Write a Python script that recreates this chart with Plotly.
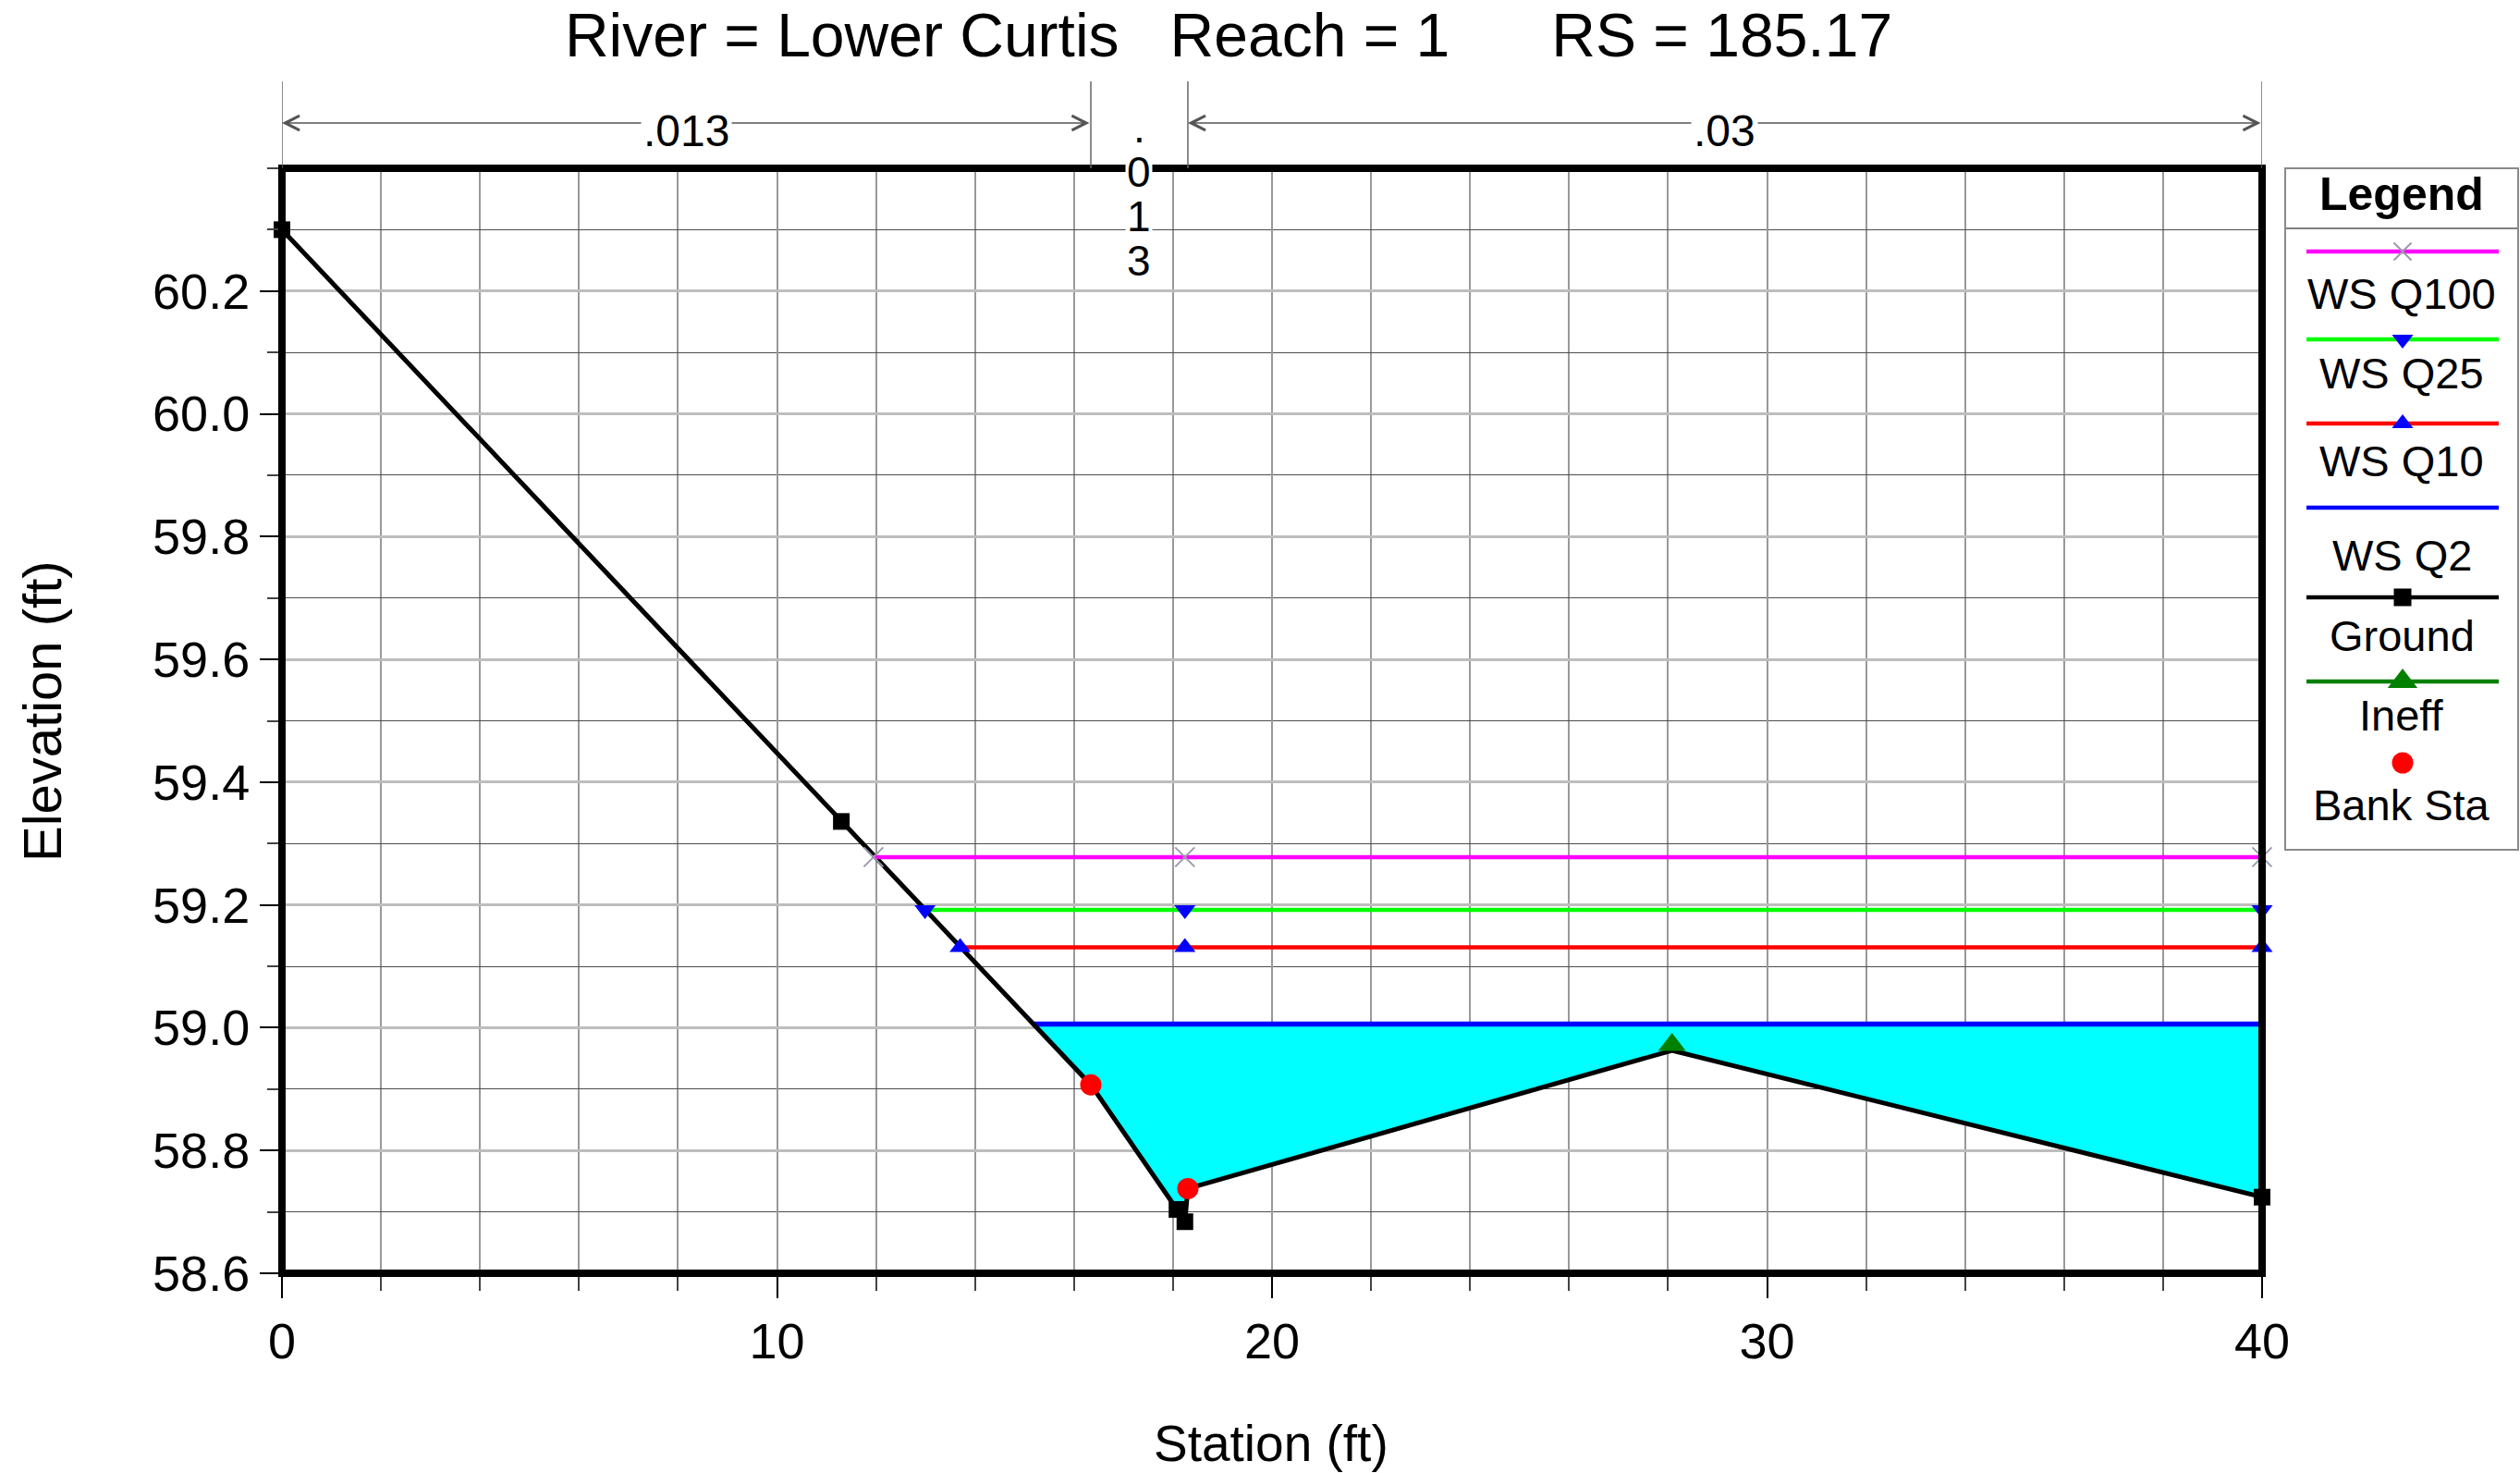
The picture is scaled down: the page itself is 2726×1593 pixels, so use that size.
import plotly.graph_objects as go

# ---------------- data ----------------
ground_sta = [0.0, 11.30, 16.34, 18.08, 18.24, 18.30, 28.08, 40.0]
ground_elev = [60.30, 59.336, 58.907, 58.704, 58.684, 58.738, 58.963, 58.724]

bank_sta = [16.34, 18.30]
bank_elev = [58.907, 58.738]

ineff_sta = [28.08]
ineff_elev = [58.972]

ws_names = ["WS Q100", "WS Q25", "WS Q10", "WS Q2"]
ws_elev = [59.278, 59.192, 59.131, 59.006]
ws_left_sta = [11.95, 12.99, 13.70, 15.18]
ws_mid_sta = 18.24
ws_right_sta = 40.0

n_values = [".013", ".013", ".03"]
n_breaks = [0.0, 16.34, 18.30, 40.0]

x_tick_vals = [0, 10, 20, 30, 40]
y_tick_vals = [58.6, 58.8, 59.0, 59.2, 59.4, 59.6, 59.8, 60.0, 60.2]
x_range = [0, 40]
y_range = [58.6, 60.4]

NB = "\u00a0"
title_text = ("River = Lower Curtis" + NB * 3 + "Reach = 1" + NB * 6 + "RS = 185.17")
x_title = "Station (ft)"
y_title = "Elevation (ft)"

legend_names = ["WS Q100", "WS Q25", "WS Q10", "WS Q2", "Ground", "Ineff", "Bank Sta"]

# ---------------- styles ----------------
FONT = "Liberation Sans, Arial, Helvetica, sans-serif"
W, H = 2726, 1593
L, T, B, R = 305, 182, 216, 3
PLOT_W, PLOT_H = 2142, 1195
PAPER_W = W - L - R
PLOT_BOTTOM = T + PLOT_H

ws_style = {
    "WS Q100": dict(color="#FF00FF", symbol="x-thin", mcolor="#9a9aae", msize=21, width=4.5),
    "WS Q25": dict(color="#00FF00", symbol="triangle-down", mcolor="#0000FF", msize=20, width=4.5),
    "WS Q10": dict(color="#FF0000", symbol="triangle-up", mcolor="#0000FF", msize=20, width=4.5),
    "WS Q2": dict(color="#0000FF", symbol=None, mcolor=None, msize=0, width=5.5),
}
GROUND_C = "black"
INEFF_C = "#008000"
BANK_C = "#FF0000"
FILL_C = "#00FFFF"


def py(px):
    """full-image pixel row -> paper y"""
    return (PLOT_BOTTOM - px) / PLOT_H


def pxx(px):
    """full-image pixel column -> paper x"""
    return (px - L) / PAPER_W


fig = go.Figure()

# ---- water fill for the lowest profile (WS Q2) ----
q2 = ws_names.index("WS Q2")
q2_left, q2_elev = ws_left_sta[q2], ws_elev[q2]
below = [(s, e) for s, e in zip(ground_sta, ground_elev) if s > q2_left]
fill_x = [q2_left, ws_right_sta] + [s for s, _ in reversed(below)] + [q2_left]
fill_y = [q2_elev, q2_elev] + [e for _, e in reversed(below)] + [q2_elev]
fig.add_trace(go.Scatter(x=fill_x, y=fill_y, mode="lines", fill="toself",
                         fillcolor=FILL_C, line=dict(width=0, color=FILL_C),
                         hoverinfo="skip", showlegend=False))

# ---- WS Q2 line ----
fig.add_trace(go.Scatter(x=[q2_left, ws_right_sta], y=[q2_elev, q2_elev], mode="lines",
                         name="WS Q2", line=dict(color=ws_style["WS Q2"]["color"],
                                                 width=ws_style["WS Q2"]["width"]),
                         showlegend=False, cliponaxis=False))

# ---- ground ----
fig.add_trace(go.Scatter(x=ground_sta, y=ground_elev, mode="lines", name="Ground",
                         line=dict(color=GROUND_C, width=5), showlegend=False, cliponaxis=False))
covered = set(bank_sta) | set(ineff_sta)
g_sizes = [0 if s in covered else 18 for s in ground_sta]
fig.add_trace(go.Scatter(x=ground_sta, y=ground_elev, mode="markers", name="Ground",
                         marker=dict(symbol="square", color=GROUND_C, size=g_sizes,
                                     opacity=1, line=dict(width=0)),
                         showlegend=False, cliponaxis=False))

# ---- other WS profiles ----
for name in ["WS Q10", "WS Q25", "WS Q100"]:
    i = ws_names.index(name)
    st = ws_style[name]
    xs = [ws_left_sta[i], ws_mid_sta, ws_right_sta]
    ys = [ws_elev[i]] * 3
    marker = dict(symbol=st["symbol"], size=st["msize"], color=st["mcolor"], opacity=1)
    if st["symbol"] == "x-thin":
        marker["line"] = dict(color=st["mcolor"], width=2)
    fig.add_trace(go.Scatter(x=xs, y=ys, mode="lines+markers", name=name,
                             line=dict(color=st["color"], width=st["width"]), marker=marker,
                             showlegend=False, cliponaxis=False))

# ---- bank stations & ineffective ----
fig.add_trace(go.Scatter(x=bank_sta, y=bank_elev, mode="markers", name="Bank Sta",
                         marker=dict(symbol="circle", color=BANK_C, size=23, opacity=1),
                         showlegend=False, cliponaxis=False))
fig.add_trace(go.Scatter(x=ineff_sta, y=ineff_elev, mode="markers", name="Ineff",
                         marker=dict(symbol="triangle-up", color=INEFF_C, size=26, opacity=1),
                         showlegend=False, cliponaxis=False))

# ---------------- custom legend (drawn in its own small axes) ----------------
LEG_W, LEG_H = 250, 735
leg_line_y = [89, 184, 275, 366, 463, 554, 642]
leg_text_y = [134, 220, 315, 417, 504, 590, 687]
leg_x0, leg_x1, leg_xc = 22, 230, 126

leg_spec = {
    "WS Q100": dict(line=ws_style["WS Q100"]["color"], symbol="x-thin", mcolor="#9a9aae", msize=19),
    "WS Q25": dict(line=ws_style["WS Q25"]["color"], symbol="triangle-down", mcolor="#0000FF", msize=20),
    "WS Q10": dict(line=ws_style["WS Q10"]["color"], symbol="triangle-up", mcolor="#0000FF", msize=20),
    "WS Q2": dict(line=ws_style["WS Q2"]["color"], symbol=None),
    "Ground": dict(line=GROUND_C, symbol="square", mcolor=GROUND_C, msize=19),
    "Ineff": dict(line=INEFF_C, symbol="triangle-up", mcolor=INEFF_C, msize=28),
    "Bank Sta": dict(line=None, symbol="circle", mcolor=BANK_C, msize=23),
}

annotations = []
for name, ly, ty in zip(legend_names, leg_line_y, leg_text_y):
    sp = leg_spec[name]
    if sp["line"]:
        fig.add_trace(go.Scatter(x=[leg_x0, leg_x1], y=[ly, ly], mode="lines",
                                 line=dict(color=sp["line"], width=4.5),
                                 xaxis="x2", yaxis="y2", showlegend=False, hoverinfo="skip"))
    if sp["symbol"]:
        mk = dict(symbol=sp["symbol"], color=sp["mcolor"], size=sp["msize"], opacity=1)
        if sp["symbol"] == "x-thin":
            mk["line"] = dict(color=sp["mcolor"], width=2)
        fig.add_trace(go.Scatter(x=[leg_xc], y=[ly], mode="markers", marker=mk,
                                 xaxis="x2", yaxis="y2", showlegend=False, hoverinfo="skip"))
    annotations.append(dict(xref="x2", yref="y2", x=leg_xc - 1, y=ty, text=name, showarrow=False,
                            xanchor="center", yanchor="middle",
                            font=dict(family=FONT, size=47, color="black")))

annotations.append(dict(xref="x2", yref="y2", x=leg_xc - 1, y=27, text="<b>Legend</b>",
                        showarrow=False, xanchor="center", yanchor="middle",
                        font=dict(family=FONT, size=50, color="black")))

shapes = [dict(type="line", xref="x2", yref="y2", x0=0, x1=LEG_W, y0=64, y1=64,
               line=dict(color="#555555", width=1.5), layer="above")]

# thick plot frame, centred on the plot-area edges (paper refs are not clipped)
X_DOM = [0, PLOT_W / PAPER_W]
shapes.append(dict(type="rect", xref="paper", yref="paper", x0=X_DOM[0], x1=X_DOM[1],
                   y0=0, y1=1, line=dict(color="black", width=8),
                   fillcolor="rgba(0,0,0,0)", layer="above"))

# ---------------- Manning's n annotations above the plot ----------------
for b in n_breaks:
    shapes.append(dict(type="line", xref="x", yref="paper", x0=b, x1=b,
                       y0=1.0, y1=py(88), line=dict(color="#666666", width=1.5), layer="above"))

arrow_y = py(133)
for i, nv in enumerate(n_values):
    a, b = n_breaks[i], n_breaks[i + 1]
    if b - a > 4:
        annotations.append(dict(xref="x", yref="paper", x=a, y=arrow_y, ax=b, ay=0,
                                axref="x", ayref="pixel", text="", showarrow=True,
                                arrowhead=5, startarrowhead=5, arrowside="end+start",
                                arrowsize=2.2, startarrowsize=2.2, arrowwidth=1.4,
                                arrowcolor="#555555", standoff=0, startstandoff=0))
        annotations.append(dict(xref="x", yref="paper", x=(a + b) / 2, y=py(141), text=nv,
                                showarrow=False, xanchor="center", yanchor="middle",
                                bgcolor="white", borderpad=2,
                                font=dict(family=FONT, size=48, color="black")))
    else:
        for k, ch in enumerate(nv):
            ann = dict(xref="x", yref="paper", x=(a + b) / 2, y=py(138 + 48 * k),
                       text=ch, showarrow=False, xanchor="center", yanchor="middle",
                       borderpad=1, font=dict(family=FONT, size=46, color="black"))
            if ch != ".":
                ann["bgcolor"] = "white"
            annotations.append(ann)

# ---------------- axis titles ----------------
annotations.append(dict(xref="paper", yref="paper", x=pxx(45), y=py(769), text=y_title,
                        textangle=-90, showarrow=False, xanchor="center", yanchor="middle",
                        font=dict(family=FONT, size=58, color="black")))
annotations.append(dict(xref="paper", yref="paper", x=pxx(1375), y=py(1561), text=x_title,
                        showarrow=False, xanchor="center", yanchor="middle",
                        font=dict(family=FONT, size=55, color="black")))

hidden_axis = dict(showgrid=False, zeroline=False, showticklabels=False, ticks="",
                   showline=True, mirror=True, linecolor="#8a8a8a", linewidth=2,
                   fixedrange=True, automargin=False)

fig.update_layout(
    width=W, height=H,
    margin=dict(l=L, r=R, t=T, b=B, pad=0, autoexpand=False),
    paper_bgcolor="white", plot_bgcolor="white",
    font=dict(family=FONT, color="black"),
    title=dict(text=title_text, x=pxx(1329), xref="paper", xanchor="center",
               y=1 - 38 / H, yref="container", yanchor="middle",
               font=dict(family=FONT, size=66, color="black")),
    showlegend=False,
    xaxis=dict(domain=X_DOM, range=x_range, tickvals=x_tick_vals,
               ticks="outside", ticklen=26, tickwidth=2, tickcolor="black",
               showgrid=True, gridcolor="#999999", gridwidth=2, zeroline=False,
               showline=False, automargin=False,
               minor=dict(dtick=2, tick0=0, ticks="outside", ticklen=18, tickwidth=1.5,
                          tickcolor="#444444", showgrid=True, gridcolor="#999999", gridwidth=2),
               tickfont=dict(family=FONT, size=54, color="black"), fixedrange=True, anchor="y"),
    yaxis=dict(domain=[0, 1], range=y_range, tickvals=y_tick_vals, tickformat=".1f",
               ticks="outside", ticklen=23, tickwidth=2, tickcolor="black",
               showgrid=True, gridcolor="#bdbdbd", gridwidth=3, zeroline=False,
               showline=False, automargin=False,
               minor=dict(dtick=0.1, tick0=58.6, ticks="outside", ticklen=15, tickwidth=1.5,
                          tickcolor="#444444", showgrid=True, gridcolor="#4d4d4d", gridwidth=1.3),
               tickfont=dict(family=FONT, size=54, color="black"), fixedrange=True, anchor="x"),
    xaxis2=dict(domain=[pxx(2473), 1.0], range=[0, LEG_W], anchor="y2", **hidden_axis),
    yaxis2=dict(domain=[py(918), py(183)], range=[LEG_H, 0], anchor="x2", **hidden_axis),
    annotations=annotations,
    shapes=shapes,
)

fig.write_html("out.html")
